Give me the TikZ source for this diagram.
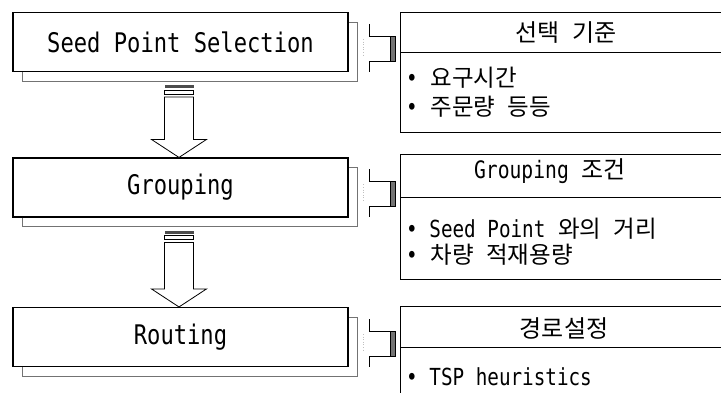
\documentclass[tikz,border=0pt]{standalone}
\usepackage{fontspec}
\newfontfamily\lat[FakeStretch=0.82]{DejaVu Sans Mono}
\newfontfamily\kr[WordSpace=2.4]{Noto Sans CJK KR}
\usetikzlibrary{calc}
\begin{document}
\begin{tikzpicture}[x=1pt,y=-1pt,
  lbox/.style={draw=black, line width=1.1pt, fill=white, minimum width=335pt,
    minimum height=59pt, inner sep=0pt, font=\lat\fontsize{27}{30}\selectfont},
  shadowline/.style={draw=black!55, line width=0.8pt},
  rbox/.style={inner sep=0pt, minimum width=324pt},
  rline/.style={draw=black, line width=1.2pt},
  titletext/.style={inner sep=0pt, font=\fontsize{24}{26}\selectfont},
  itemtext/.style={inner sep=0pt, anchor=west, font=\fontsize{23.5}{26}\selectfont},
  bigarrow/.style={draw=black, line width=0.8pt, fill=white},
  tabline/.style={draw=black, line width=0.9pt},
  tabbar/.style={draw=black, line width=0.6pt, fill=black!55},
  faint/.style={draw=black!25, line width=0.6pt, dotted}
]
\useasboundingbox (0,0) rectangle (721,393);

% left process boxes
\node[lbox] (s1) at (180.5,42) {Seed Point Selection};
\node[lbox] (s2) at (180.5,187.5) {Grouping};
\node[lbox] (s3) at (180.5,337) {Routing};

% shadows
\foreach \n in {s1,s2,s3}{
  \draw[shadowline] ($(\n.south west)+(10,0)$) -- ($(\n.south west)+(10,9)$)
    -- ($(\n.south east)+(9,9)$) -- ($(\n.north east)+(9,10)$) -- ($(\n.north east)+(0,10)$);
}

% block arrows
\foreach \a/\b in {s1/s2,s2/s3}{
  \fill[black!70] ($(\a.south)+(-16,13)$) rectangle ($(\a.south)+(13,16)$);
  \draw[bigarrow] ($(\a.south)+(-16,18)$) rectangle ($(\a.south)+(13,22)$);
  \draw[bigarrow] ($(\a.south)+(-16,25)$) -- ($(\b.north)+(-16,-18)$)
    -- ($(\b.north)+(-29,-18)$) -- ($(\b.north)+(-1.5,0)$) -- ($(\b.north)+(26,-18)$)
    -- ($(\b.north)+(13,-18)$) -- ($(\a.south)+(13,25)$) -- cycle;
}

% right boxes
\node[rbox, minimum height=119pt] (r1) at (563,72.5) {};
\node[rbox, minimum height=124pt] (r2) at (563,217) {};
\node[rbox, minimum height=93pt] (r3) at (563,353.5) {};
\draw[rline] (r1.north east) -- (r1.north west) -- (r1.south west) -- (r1.south east);
\draw[rline] ($(r1.north west)+(0,40)$) -- ($(r1.north east)+(0,40)$);
\draw[rline] (r2.north east) -- (r2.north west) -- (r2.south west) -- (r2.south east);
\draw[rline] ($(r2.north west)+(0,43)$) -- ($(r2.north east)+(0,43)$);
\draw[rline] (r3.north east) -- (r3.north west) -- (r3.south west);
\draw[rline] ($(r3.north west)+(0,41)$) -- ($(r3.north east)+(0,41)$);

% tab connectors between left and right boxes
\foreach \n in {s1,s2,s3}{
  \draw[faint] ($(\n.east)+(15,-3)$) -- ($(\n.east)+(15,14)$);
  \draw[tabline] ($(\n.east)+(21,-18)$) -- ($(\n.east)+(21,-6)$) -- ($(\n.east)+(43,-6)$);
  \draw[tabline] ($(\n.east)+(43,19)$) -- ($(\n.east)+(21,19)$) -- ($(\n.east)+(21,30)$);
  \draw[tabbar] ($(\n.east)+(42,-6)$) rectangle ($(\n.east)+(47,19)$);
}

% titles
\node[titletext] (h1) at (566,33) {\kr 선택 기준};
\node[titletext] (h2) at (550,171) {\lat Grouping\kr\ 조건};
\node[titletext] (h3) at (564,328) {\kr 경로설정};

% items
\node[itemtext] (i1) at (406,78) {\lat •\kr\ 요구시간};
\node[itemtext] (i2) at (406,107) {\lat •\kr\ 주문량 등등};
\node[itemtext] (i3) at (406,229) {\lat • Seed Point\kr\ 와의 거리};
\node[itemtext] (i4) at (406,255) {\lat •\kr\ 차량 적재용량};
\node[itemtext] (i5) at (406,377) {\lat • TSP heuristics};
\end{tikzpicture}
\end{document}
